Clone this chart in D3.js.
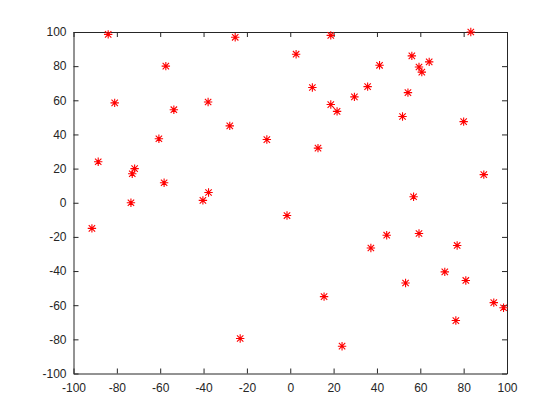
<!DOCTYPE html>
<html><head><meta charset="utf-8">
<script src="https://cdn.jsdelivr.net/npm/d3@7"></script>
<style>body{margin:0;background:#fff}</style>
</head><body>
<script>
const xs = [-84,-25.4,-57.4,-81,-37.9,-53.7,-27.9,-60.6,-10.8,-88.6,-71.8,-72.9,-58.2,-37.7,-73.5,-40.3,
  18.7,83.3,2.7,56.1,41.2,64.1,59.4,60.7,10.2,35.7,54.3,29.6,18.7,21.6,51.8,80,12.8,89.3,56.9,-1.5,
  -91.5,-23.1,
  37.2,44.5,59.4,77,71.3,53.2,81,15.6,93.9,98.4,76.4,23.9];
const ys = [98.6,96.9,80,58.5,59,54.5,45,37.5,37,24,20,17,11.7,6,0,1.4,
  98,100,87,86,80.5,82.5,79.5,76.5,67.5,68,64.5,62,57.5,53.5,50.5,47.5,32,16.5,3.5,-7.5,
  -15,-79.5,
  -26.5,-19,-18,-25,-40.5,-47,-45.5,-55,-58.5,-61.5,-69,-84];
const xTicks = [-100,-80,-60,-40,-20,0,20,40,60,80,100];
const yTicks = [-100,-80,-60,-40,-20,0,20,40,60,80,100];

const W=560,H=420, L=73.5, R=507, T=32, B=373.5;
const svg=d3.select("body").append("svg").attr("width",W).attr("height",H);
const x=d3.scaleLinear().domain([-100,100]).range([L,R]);
const y=d3.scaleLinear().domain([-100,100]).range([B,T]);
const font="'Liberation Sans', Arial, Helvetica, sans-serif";
const col="#262626";
const fmt = d => String(d);

function style(g){
  g.selectAll("path").attr("stroke",col).attr("stroke-width",1);
  g.selectAll("line").attr("stroke",col).attr("stroke-width",1);
  g.selectAll("text").attr("fill",col).style("font-family",font).style("font-size","12px");
}
svg.append("g").attr("transform",`translate(0,${B})`)
  .call(d3.axisBottom(x).tickValues(xTicks).tickSizeInner(-5).tickSizeOuter(0).tickPadding(10).tickFormat(fmt))
  .call(style).call(g=>g.selectAll("text").attr("dy","0.71em"));
svg.append("g").attr("transform",`translate(${L},0)`)
  .call(d3.axisLeft(y).tickValues(yTicks).tickSizeInner(-5).tickSizeOuter(0).tickPadding(7).tickFormat(fmt))
  .call(style);
svg.append("g").attr("transform",`translate(0,${T})`)
  .call(d3.axisTop(x).tickValues(xTicks).tickSizeInner(-5).tickSizeOuter(0).tickFormat(""))
  .call(style);
svg.append("g").attr("transform",`translate(${R},0)`)
  .call(d3.axisRight(y).tickValues(yTicks).tickSizeInner(-5).tickSizeOuter(0).tickFormat(""))
  .call(style);

const s=4.2, d=3.2;
const star=`M${-s},0L${s},0M0,${-s}L0,${s}M${-d},${-d}L${d},${d}M${-d},${d}L${d},${-d}`;
svg.append("g").selectAll("path.pt").data(xs.map((v,i)=>[v,ys[i]])).join("path")
  .attr("class","pt")
  .attr("transform",p=>`translate(${x(p[0])},${y(p[1])})`)
  .attr("d",star).attr("stroke","#ff0000").attr("stroke-width",1.1).attr("fill","none");
</script>
</body></html>
